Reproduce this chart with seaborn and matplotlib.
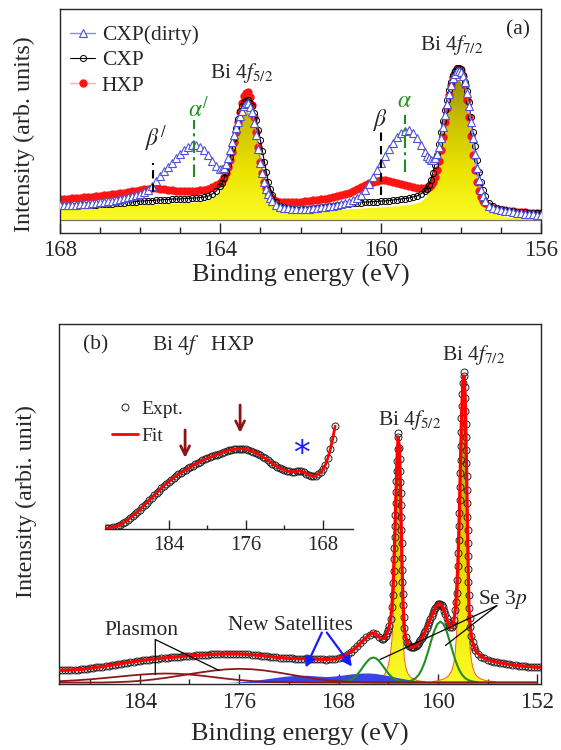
import matplotlib
matplotlib.use("Agg")
import matplotlib.pyplot as plt
import numpy as np
import seaborn as sns
from matplotlib.colors import LinearSegmentedColormap
from matplotlib.patches import PathPatch
from matplotlib.ticker import FixedLocator, MultipleLocator

# ---------------- panel (a): Bi 4f, CXP / HXP ----------------
top_energy = [
    168.0, 167.9, 167.8, 167.7, 167.6, 167.5, 167.4, 167.3, 167.2, 167.1,
    167.0, 166.9, 166.8, 166.7, 166.6, 166.5, 166.4, 166.3, 166.2, 166.1,
    166.0, 165.9, 165.8, 165.7, 165.6, 165.5, 165.4, 165.3, 165.2, 165.1,
    165.0, 164.9, 164.8, 164.7, 164.6, 164.5, 164.4, 164.3, 164.2, 164.1, 164.0,
    163.95, 163.9, 163.85, 163.8, 163.75, 163.7, 163.65, 163.6, 163.55, 163.5,
    163.45, 163.4, 163.35, 163.3, 163.25, 163.2, 163.15, 163.1, 163.05, 163.0,
    162.95, 162.9, 162.85, 162.8, 162.75, 162.7,
    162.6, 162.5, 162.4, 162.3, 162.2, 162.1, 162.0, 161.9, 161.8, 161.7,
    161.6, 161.5, 161.4, 161.3, 161.2, 161.1, 161.0, 160.9, 160.8, 160.7,
    160.6, 160.5, 160.4, 160.3, 160.2, 160.1, 160.0, 159.9, 159.8, 159.7,
    159.6, 159.5, 159.4, 159.3, 159.2, 159.1, 159.0, 158.9,
    158.85, 158.8, 158.75, 158.7, 158.65, 158.6, 158.55, 158.5, 158.45, 158.4,
    158.35, 158.3, 158.25, 158.2, 158.15, 158.1, 158.05, 158.0, 157.95, 157.9,
    157.85, 157.8, 157.75, 157.7, 157.65, 157.6, 157.55, 157.5, 157.45, 157.4,
    157.3, 157.2, 157.1, 157.0, 156.9, 156.8, 156.7, 156.6, 156.5, 156.4,
    156.3, 156.2, 156.1, 156.0,
]
hxp = [
    21, 21, 21.5, 22, 22, 22.5, 23, 23, 23.5, 24,
    24.5, 25, 25.5, 26, 26.5, 27, 27.5, 28, 29, 29.5,
    30, 31, 31.5, 32, 32, 31.5, 31, 30.5, 30, 29.5,
    29, 29, 29, 29, 29.5, 30, 30.5, 31.5, 33, 35, 37,
    39.5, 43, 47.5, 53, 60, 68, 78, 88, 98, 108,
    117, 124, 127.5, 128, 123, 115, 103, 88, 73, 58,
    47, 38, 32.5, 28, 24.5, 22,
    19.5, 18.5, 18, 18, 18, 18, 18.5, 19, 19.5, 20,
    20.5, 21, 21.5, 22.5, 23, 24, 25, 26, 27.5, 29,
    31, 33, 35, 37, 38.5, 39.5, 40, 40, 39.5, 38.5,
    37.5, 36, 35, 34, 33, 32.5, 32, 32,
    32.3, 33, 35, 38, 43, 50, 59, 70, 83, 98,
    112, 125, 135, 143, 148, 151, 151.5, 150, 144, 135,
    120, 103, 84, 65, 50, 38, 29, 23, 19.5, 17,
    14, 12.5, 11.5, 10.5, 10, 9.5, 9, 8.5, 8, 8,
    7.5, 7.5, 7, 7,
]
cxp = [
    14, 14, 14, 14.5, 14.5, 15, 15, 15, 15.5, 15.5,
    16, 16, 16.5, 16.5, 17, 17, 17.5, 18, 18, 18.5,
    19, 19, 19.5, 19.5, 20, 20, 20.5, 20.5, 21, 21,
    21, 21.5, 21.5, 22, 22, 22.5, 23, 24, 26, 29, 34,
    37.5, 42, 48, 55, 63, 72, 82, 92, 101, 109,
    114.5, 118, 119.5, 120, 117.5, 114, 107.5, 100, 90.5, 80,
    69, 58, 48, 38, 31, 25,
    18, 14.5, 13, 12, 11.5, 11, 11, 11, 11.5, 12,
    12.5, 13, 13.5, 14, 14.5, 15, 15.5, 16, 16.5, 17,
    17.5, 17.5, 18, 18, 18.5, 18.5, 19, 19, 19.5, 20,
    20.5, 21, 21.5, 22, 23, 24, 26, 29,
    31.5, 35, 40.5, 47, 55.5, 65, 76.5, 88, 99, 110,
    120.5, 130, 138.5, 145, 149.5, 152, 152.5, 151, 145.5, 138,
    129, 118, 103.5, 88, 74, 60, 48.5, 38, 30.5, 24,
    17, 14, 12, 11, 10, 9.5, 9, 8.5, 8, 8,
    7.5, 7, 7, 7,
]
cxp_dirty = [
    15, 15, 15, 15.5, 15.5, 16, 16, 16.5, 17, 17.5,
    18, 18.5, 19, 19.5, 20.5, 21.5, 22.5, 23.5, 24.5, 25,
    26, 28, 30, 34, 39, 44, 49, 53, 57, 62,
    66, 70, 73, 75, 75, 73, 70, 65, 59, 54, 51,
    51, 52, 56, 62, 70, 78, 85, 92, 98.5, 104,
    109.5, 114, 116, 117, 113.5, 108, 97, 85, 71, 57,
    47, 38, 31.5, 26, 22, 19,
    15, 13, 12.5, 12, 11.5, 11, 11, 11, 11.5, 12,
    12.5, 13, 13.5, 14, 14.5, 15, 16, 17, 18.5, 20,
    22.5, 25, 30, 36, 43, 50, 57, 64, 71, 77,
    83, 87, 89.5, 90, 87.5, 82, 75, 68,
    64.5, 62, 60.5, 60, 62, 66, 73, 82, 93, 105,
    116, 126, 135, 142, 146.5, 149, 149.5, 148, 144, 138,
    127, 114, 98, 82, 66.5, 52, 40, 30, 24, 19,
    14, 12, 11, 10, 9.5, 9, 8, 7.5, 7, 6.5,
    6, 6, 5.5, 5,
]
cxp_fit = [
    10, 10, 10.5, 10.5, 11, 11, 11, 11.5, 11.5, 12,
    12, 12.5, 12.5, 13, 13, 13.5, 13.5, 14, 14, 14.5,
    14.5, 15, 15, 15, 15.5, 15.5, 16, 16, 16, 16.5,
    16.5, 17, 17, 17.5, 17.5, 18, 18.5, 19.5, 21, 24, 29,
    32.5, 37, 43, 50, 58, 67, 76, 85, 93, 100,
    104, 107, 108, 107, 104, 100, 93, 85, 75, 65,
    55, 45, 36.5, 29, 23.5, 19,
    13, 10, 8.5, 8, 7.5, 7.5, 7.5, 8, 8, 8.5,
    8.5, 9, 9, 9.5, 9.5, 10, 10, 10.5, 10.5, 11,
    11, 11.5, 11.5, 12, 12, 12.5, 12.5, 13, 13, 13.5,
    13.5, 14, 14.5, 15, 15.5, 16.5, 18, 21,
    23.5, 27, 32, 38, 46, 55, 66, 77, 89, 100,
    110.5, 120, 128, 134, 138, 140, 140, 138, 133.5, 127,
    118.5, 108, 96, 83, 70, 57, 45.5, 35, 27, 20,
    12, 8, 5.5, 4, 3, 2.5, 2, 2, 1.5, 1.5,
    1.5, 1, 1, 1,
]

# ---------------- panel (b): HXP Bi 4f with fit ----------------
hxp_energy = [
    190.5, 190.25, 190.0, 189.75, 189.5, 189.25, 189.0, 188.75, 188.5, 188.25,
    188.0, 187.75, 187.5, 187.25, 187.0, 186.75, 186.5, 186.25, 186.0, 185.75,
    185.5, 185.25, 185.0, 184.75, 184.5, 184.25, 184.0, 183.75, 183.5, 183.25,
    183.0, 182.75, 182.5, 182.25, 182.0, 181.75, 181.5, 181.25, 181.0, 180.75,
    180.5, 180.25, 180.0, 179.75, 179.5, 179.25, 179.0, 178.75, 178.5, 178.25,
    178.0, 177.75, 177.5, 177.25, 177.0, 176.75, 176.5, 176.25, 176.0, 175.75,
    175.5, 175.25, 175.0, 174.75, 174.5, 174.25, 174.0, 173.75, 173.5, 173.25,
    173.0, 172.75, 172.5, 172.25, 172.0, 171.75, 171.5, 171.25, 171.0, 170.75,
    170.5, 170.25, 170.0, 169.75, 169.5, 169.25, 169.0, 168.75, 168.5, 168.25,
    168.0, 167.75, 167.5, 167.25, 167.0, 166.75, 166.5, 166.25, 166.0, 165.75,
    165.5, 165.25, 165.0, 164.75, 164.5,
    164.4, 164.3, 164.2, 164.1, 164.0, 163.9, 163.8, 163.7, 163.6, 163.5,
    163.4, 163.3, 163.2, 163.1, 163.0, 162.9, 162.8, 162.7, 162.6, 162.5,
    162.4, 162.3, 162.2, 162.1, 162.0, 161.9, 161.8, 161.7, 161.6, 161.5,
    161.4, 161.3, 161.2, 161.1, 161.0, 160.9, 160.8, 160.7, 160.6, 160.5,
    160.4, 160.3, 160.2, 160.1, 160.0, 159.9, 159.8, 159.7, 159.6, 159.5,
    159.4, 159.3, 159.2, 159.1, 159.0, 158.9, 158.8, 158.7, 158.6, 158.5,
    158.4, 158.3, 158.2, 158.1, 158.0, 157.9, 157.8, 157.7, 157.6, 157.5,
    157.4, 157.3, 157.2, 157.1, 157.0,
    156.75, 156.5, 156.25, 156.0, 155.75, 155.5, 155.25, 155.0, 154.75, 154.5,
    154.25, 154.0, 153.75, 153.5, 153.25, 153.0, 152.75, 152.5, 152.25, 152.0,
    151.75,
]
hxp_counts = [
    12.2, 12.2, 12.3, 12.4, 12.5, 12.7, 12.9, 13.2, 13.5, 13.9,
    14.3, 14.7, 15.1, 15.5, 16.0, 16.5, 17.0, 17.5, 18.0, 18.5,
    19.0, 19.5, 20.0, 20.5, 21.0, 21.4, 21.8, 22.2, 22.6, 23.0,
    23.4, 23.7, 24.0, 24.3, 24.6, 24.9, 25.2, 25.5, 25.8, 26.0,
    26.3, 26.5, 26.7, 26.9, 27.1, 27.3, 27.5, 27.7, 27.9, 28.1,
    28.2, 28.4, 28.5, 28.6, 28.7, 28.7, 28.7, 28.7, 28.6, 28.5,
    28.3, 28.1, 27.9, 27.6, 27.3, 27.0, 26.7, 26.3, 26.0, 25.6,
    25.3, 25.0, 24.7, 24.5, 24.3, 24.1, 24.0, 23.9, 23.9, 24.0,
    24.1, 24.0, 23.8, 23.5, 23.3, 23.1, 23.0, 23.1, 23.4, 23.8,
    24.4, 25.4, 26.8, 28.6, 30.8, 33.4, 36.2, 39.2, 42.2, 45.2,
    48.0, 49.6, 48.6, 45.8, 43.6,
    43.8, 45.0, 47.0, 49.5, 52.5, 57, 64, 76, 100, 135,
    180, 222, 246, 235, 190, 125, 78, 55, 46, 41,
    38.5, 36.8, 35.8, 35.3, 35.3, 35.7, 36.5, 37.5, 38.8, 40.4,
    42.2, 44.3, 46.6, 49.1, 51.8, 54.6, 57.5, 60.5, 63.5, 66.5,
    69.4, 72.2, 74.7, 76.8, 78.3, 79.0, 78.8, 77.5, 75.2, 72.0,
    68.2, 64.2, 60.4, 57.3, 55.4, 55.2, 57.5, 63, 73, 90,
    117, 157, 210, 265, 300, 307, 285, 220, 140, 75,
    56, 47, 40.5, 36, 33,
    28.8, 26.0, 24.2, 22.9, 21.8, 21.0, 20.3, 19.6, 19.1, 18.6,
    18.1, 17.6, 17.2, 16.8, 16.5, 16.3, 16.0, 15.8, 15.6, 15.3,
    15.1,
]
# extra experimental points on the steep flanks of the two main peaks
flank_energy = [
    163.65, 163.566, 163.531, 163.476, 163.451, 163.427, 163.374, 163.348, 163.324, 163.25, 163.22,
    163.076, 163.049, 163.024, 162.982, 162.963, 162.943, 162.923, 162.874, 162.849, 162.823, 162.748,
    158.553, 158.452, 158.368, 158.335, 158.275, 158.251, 158.226, 158.176, 158.151, 158.125,
    158.066, 158.031, 157.93,
    157.85, 157.78, 157.76, 157.74, 157.72, 157.684, 157.666, 157.65, 157.633, 157.616,
    157.58, 157.56, 157.54, 157.52, 157.45,
]
flank_counts = [
    88, 112, 124, 146, 157, 168, 191, 202, 212, 234, 250,
    224, 212, 201, 178, 166, 153, 140, 113, 101, 89, 66,
    81, 103, 130, 143, 170, 183, 196, 223, 237, 251,
    277, 289, 311,
    296, 272, 259, 246, 233, 207, 193, 180, 166, 153,
    127, 114, 101, 88, 65,
]

bi52_energy = [
    165.7, 165.6, 165.5, 165.4, 165.3, 165.2, 165.1, 165.0, 164.9, 164.8,
    164.7, 164.6, 164.5, 164.4, 164.3, 164.2, 164.1, 164.0, 163.9, 163.8,
    163.7, 163.6, 163.5, 163.4, 163.3, 163.2, 163.1, 163.0, 162.9, 162.8,
    162.7, 162.6, 162.5, 162.4, 162.3, 162.2, 162.1, 162.0, 161.9, 161.8,
    161.7, 161.6, 161.5, 161.4, 161.3, 161.2, 161.1, 161.0,
]
bi52 = [
    0.9, 1.0, 1.1, 1.3, 1.5, 1.7, 2.0, 2.3, 2.7, 3.1,
    3.6, 4.3, 5.2, 6.5, 8.0, 10, 13, 17, 23, 31,
    43, 65, 100, 145, 190, 214, 200, 155, 92, 45,
    24, 16, 11.5, 8.7, 6.8, 5.4, 4.4, 3.6, 3.0, 2.6,
    2.2, 1.9, 1.6, 1.4, 1.2, 1.0, 0.9, 0.8,
]
bi72_energy = [
    160.4, 160.3, 160.2, 160.1, 160.0, 159.9, 159.8, 159.7, 159.6, 159.5,
    159.4, 159.3, 159.2, 159.1, 159.0, 158.9, 158.8, 158.7, 158.6, 158.5,
    158.4, 158.3, 158.2, 158.1, 158.0, 157.9, 157.8, 157.7, 157.6, 157.5,
    157.4, 157.3, 157.2, 157.1, 157.0, 156.9, 156.8, 156.7, 156.6, 156.5,
    156.4, 156.3, 156.2, 156.1, 156.0, 155.9, 155.8, 155.7, 155.6, 155.5,
    155.4,
]
bi72 = [
    1.0, 1.2, 1.4, 1.6, 1.9, 2.2, 2.5, 2.9, 3.3, 3.8,
    4.4, 5.2, 6.2, 7.5, 9.2, 11.5, 15, 21, 31, 48,
    75, 115, 170, 228, 272, 285, 260, 200, 122, 55,
    32, 22, 15.5, 11.5, 8.8, 7.0, 5.7, 4.7, 4.0, 3.4,
    2.9, 2.5, 2.2, 1.9, 1.7, 1.5, 1.3, 1.2, 1.0, 0.9,
    0.8,
]
se_a_energy = [
    168.2, 167.95, 167.7, 167.45, 167.2, 166.95, 166.7, 166.45, 166.2, 165.95,
    165.7, 165.45, 165.2, 164.95, 164.7, 164.45, 164.2, 163.95, 163.7, 163.45,
    163.2, 162.95, 162.7, 162.45, 162.2,
]
se_a = [
    0.2, 0.35, 0.6, 1.0, 1.8, 3.1, 5.3, 8.5, 12.5, 17.0,
    21.0, 24.0, 25.0, 24.0, 21.0, 17.0, 12.5, 8.5, 5.3, 3.1,
    1.8, 1.0, 0.6, 0.35, 0.2,
]
se_b_energy = [
    162.8, 162.55, 162.3, 162.05, 161.8, 161.55, 161.3, 161.05, 160.8, 160.55,
    160.3, 160.05, 159.8, 159.55, 159.3, 159.05, 158.8, 158.55, 158.3, 158.05,
    157.8, 157.55, 157.3, 157.05, 156.8,
]
se_b = [
    0.4, 0.7, 1.3, 2.4, 4.3, 7.6, 13.0, 20.7, 30.5, 41.4,
    51.3, 58.4, 61.0, 58.4, 51.3, 41.4, 30.5, 20.7, 13.0, 7.6,
    4.3, 2.4, 1.3, 0.7, 0.4,
]
plasmon_energy = [
    190.5, 190, 189, 188, 187, 186, 185, 184, 183, 182,
    181, 180, 179, 178, 177, 176, 175, 174, 173, 172,
    171, 170, 169, 168, 167, 166, 165, 152,
]
plasmon_1 = [
    1.3, 1.6, 2.3, 3.2, 4.3, 5.5, 6.7, 7.8, 8.6, 9.0,
    8.8, 8.0, 6.8, 5.3, 3.8, 2.5, 1.5, 0.8, 0.4, 0.2,
    0.1, 0, 0, 0, 0, 0, 0, 0,
]
plasmon_2 = [
    0, 0, 0, 0, 0, 0.3, 0.8, 1.6, 2.9, 4.5,
    6.4, 8.4, 10.3, 12.0, 13.2, 13.7, 13.3, 12.1, 10.3, 8.2,
    6.0, 4.0, 2.4, 1.3, 0.6, 0.2, 0, 0,
]
sat_energy = [
    177.0, 176.5, 176.0, 175.5, 175.0, 174.5, 174.0, 173.5, 173.0, 172.5,
    172.0, 171.5, 171.0, 170.5, 170.0, 169.5, 169.0, 168.5, 168.0, 167.5,
    167.0, 166.5, 166.0, 165.5, 165.0, 164.5, 164.0, 163.5, 163.0, 162.5,
    162.0, 161.5, 161.0, 160.5, 160.0, 159.5,
]
satellites = [
    0.0, 0.3, 0.7, 1.2, 1.8, 2.6, 3.4, 4.3, 5.2, 6.0,
    6.6, 7.1, 7.3, 7.2, 6.8, 6.3, 6.0, 6.3, 7.0, 7.8,
    8.6, 9.2, 9.5, 9.5, 9.0, 8.0, 6.8, 5.5, 4.3, 3.2,
    2.3, 1.5, 0.9, 0.4, 0.2, 0.0,
]

sns.set_style("ticks")
plt.rcParams["font.family"] = ["Liberation Serif", "DejaVu Serif"]
plt.rcParams["mathtext.fontset"] = "stix"
plt.rcParams["axes.linewidth"] = 1.0

XLABEL = 19
YLABEL = 17.3
TICK = 16.5
TEXT = 15.5

bi_cmap = LinearSegmentedColormap.from_list("bi", ["#fbfb28", "#ece400", "#c9c000", "#8c8812"])


def gradient_fill(ax, x, y, top, z):
    band = ax.fill_between(x, 0, y, facecolor="none", edgecolor="none", zorder=z)
    clip = PathPatch(band.get_paths()[0], transform=ax.transData,
                     facecolor="none", edgecolor="none")
    ax.add_patch(clip)
    shade = ax.imshow(np.linspace(0, 1, 256).reshape(-1, 1), cmap=bi_cmap,
                      origin="lower", aspect="auto",
                      extent=(min(x), max(x), 0, top), zorder=z)
    shade.set_clip_path(clip)


def draw(ax, x, y, **kw):
    sns.lineplot(x=x, y=y, ax=ax, estimator=None, sort=False, errorbar=None, **kw)
    return ax.lines[-1]


fig = plt.figure(figsize=(5.61, 7.5), dpi=100)
ax_a = fig.add_axes([60 / 561, 1 - 233 / 750, 481 / 561, 224 / 750])
ax_b = fig.add_axes([59 / 561, 66 / 750, 482 / 561, 360 / 750])
ax_in = fig.add_axes([105 / 561, 1 - 529 / 750, 248 / 561, 149 / 750])

# ---- panel (a) ----
gradient_fill(ax_a, top_energy, cxp_fit, 150, 1)
ax_a.axhline(0, color="0.45", lw=0.9, zorder=1.5)
h_hxp = draw(ax_a, top_energy, hxp, color="#ffb0b0", lw=1.0, marker="o", markersize=6,
             markerfacecolor="#ff1414", markeredgecolor="#ff1414", markeredgewidth=0, zorder=2)
h_cxp = draw(ax_a, top_energy, cxp, color="black", lw=0.8, marker="o", markersize=4.4,
             markerfacecolor="none", markeredgecolor="black", markeredgewidth=0.7, zorder=3)
h_dirty = draw(ax_a, top_energy, cxp_dirty, color="#8a8af2", lw=1.0, marker="^", markersize=5.2,
               markerfacecolor="white", markeredgecolor="#5252d8", markeredgewidth=0.8, zorder=4)

ax_a.legend([h_dirty, h_cxp, h_hxp], ["CXP(dirty)", "CXP", "HXP"], loc="upper left",
            bbox_to_anchor=(0.02, 0.928), frameon=False, fontsize=TEXT, handlelength=1.2,
            handletextpad=0.3, labelspacing=0.24, borderpad=0, borderaxespad=0)

green = "#1f8f1f"
ax_a.vlines(165.68, 28, 57, colors="black", linestyles=(0, (4, 2.5)), lw=1.5, zorder=5)
ax_a.vlines(164.65, 43, 100, colors=green, linestyles=(0, (6, 2, 1.5, 2)), lw=1.5, zorder=5)
ax_a.vlines(160.0, 25, 90, colors="black", linestyles=(0, (4, 2.5)), lw=1.5, zorder=5)
ax_a.vlines(159.39, 48, 105, colors=green, linestyles=(0, (6, 2, 1.5, 2)), lw=1.5, zorder=5)
ax_a.text(165.88, 74, r"$\beta^{/}$", fontsize=17, va="baseline")
ax_a.text(164.81, 103, r"$\alpha^{/}$", fontsize=17, va="baseline", color=green)
ax_a.text(160.19, 94, r"$\beta$", fontsize=17, va="baseline")
ax_a.text(159.59, 113, r"$\alpha$", fontsize=17, va="baseline", color=green)
ax_a.text(164.26, 142, r"Bi 4$f_{\mathit{5/2}}$", fontsize=TEXT, va="baseline")
ax_a.text(159.02, 170, r"Bi 4$f_{\mathit{7/2}}$", fontsize=TEXT, va="baseline")
ax_a.text(0.952, 0.906, "(a)", transform=ax_a.transAxes, fontsize=TEXT, ha="center", va="center")

ax_a.set_xlim(168, 156)
ax_a.set_ylim(-13, 211)
ax_a.set_xticks([168, 164, 160, 156])
ax_a.xaxis.set_minor_locator(MultipleLocator(1))
ax_a.set_yticks([])
ax_a.tick_params(axis="x", which="major", direction="in", length=7, width=1, labelsize=TICK, pad=5)
ax_a.tick_params(axis="x", which="minor", direction="in", length=4.3, width=1)
ax_a.set_xlabel("Binding energy (eV)", fontsize=XLABEL)
ax_a.set_ylabel("Intensity (arb. units)", fontsize=YLABEL)
ax_a.xaxis.set_label_coords(0.5, -0.14)
ax_a.yaxis.set_label_coords(-0.052, 0.44)

# ---- panel (b) ----
gradient_fill(ax_b, bi52_energy, bi52, 290, 1)
gradient_fill(ax_b, bi72_energy, bi72, 290, 1)
draw(ax_b, bi52_energy, bi52, color="#ff5a1e", lw=0.7, zorder=1.2)
draw(ax_b, bi72_energy, bi72, color="#ff5a1e", lw=0.7, zorder=1.2)
ax_b.fill_between(sat_energy, 0, satellites, color="#3a44e6", lw=0, zorder=1.3)
draw(ax_b, se_a_energy, se_a, color=green, lw=1.5, zorder=2)
draw(ax_b, se_b_energy, se_b, color=green, lw=1.5, zorder=2)
draw(ax_b, plasmon_energy, plasmon_1, color="#8b1a1a", lw=1.3, zorder=2)
draw(ax_b, plasmon_energy, plasmon_2, color="#8b1a1a", lw=1.3, zorder=2)

draw(ax_b, hxp_energy, hxp_counts, linestyle="none", marker="o", markersize=5,
     markerfacecolor="none", markeredgecolor="#222222", markeredgewidth=0.7, zorder=3)
draw(ax_b, flank_energy, flank_counts, linestyle="none", marker="o", markersize=5,
     markerfacecolor="none", markeredgecolor="#222222", markeredgewidth=0.7, zorder=3)
draw(ax_b, hxp_energy, hxp_counts, color="#ff0000", lw=2.3, zorder=4)

line_kw = dict(arrowstyle="-", color="black", lw=0.9, shrinkA=0, shrinkB=0)
for end in [(182.75, 8), (177.6, 12)]:
    ax_b.annotate("", xy=end, xytext=(182.75, 43), arrowprops=line_kw, zorder=5)
for end in [(164.66, 23), (159.4, 37)]:
    ax_b.annotate("", xy=end, xytext=(155.25, 77), arrowprops=line_kw, zorder=5)
arrow_kw = dict(arrowstyle="-|>", color="#1a1aff", lw=1.6, mutation_scale=15, shrinkA=0, shrinkB=0)
ax_b.annotate("", xy=(170.65, 15), xytext=(169.34, 50), arrowprops=arrow_kw, zorder=5)
ax_b.annotate("", xy=(166.92, 16), xytext=(168.94, 50), arrowprops=arrow_kw, zorder=5)

ax_b.text(183.85, 48, "Plasmon", fontsize=TEXT, ha="center", va="baseline")
ax_b.text(171.9, 53, "New Satellites", fontsize=TEXT, ha="center", va="baseline")
ax_b.text(156.76, 79, r"Se 3$p$", fontsize=TEXT, va="baseline")
ax_b.text(164.82, 258, r"Bi 4$f_{\mathit{5/2}}$", fontsize=TEXT, va="baseline")
ax_b.text(159.66, 323, r"Bi 4$f_{\mathit{7/2}}$", fontsize=TEXT, va="baseline")
ax_b.text(0.05, 0.928, "(b)", transform=ax_b.transAxes, fontsize=TEXT, va="baseline")
ax_b.text(0.193, 0.928, r"Bi 4$f$   HXP", transform=ax_b.transAxes, fontsize=TEXT, va="baseline")

ax_b.set_xlim(190.5, 151.7)
ax_b.set_ylim(-1.5, 359)
ax_b.set_xticks([184, 176, 168, 160, 152])
ax_b.xaxis.set_minor_locator(MultipleLocator(4))
ax_b.set_yticks([])
ax_b.tick_params(axis="x", which="major", direction="in", length=7, width=1, labelsize=TICK, pad=6)
ax_b.tick_params(axis="x", which="minor", direction="in", length=3.6, width=1)
ax_b.set_xlabel("Binding energy (eV)", fontsize=XLABEL)
ax_b.set_ylabel("Intensity (arbi. unit)", fontsize=YLABEL)
ax_b.xaxis.set_label_coords(0.5, -0.108)
ax_b.yaxis.set_label_coords(-0.046, 0.506)

# ---- inset: plasmon / satellite region ----
in_energy = [e for e in hxp_energy if e >= 166.7]
in_counts = hxp_counts[:len(in_energy)]
h_expt = draw(ax_in, in_energy, in_counts, linestyle="none", marker="o", markersize=5,
              markerfacecolor="none", markeredgecolor="#222222", markeredgewidth=0.7, zorder=3)
h_fit = draw(ax_in, in_energy, in_counts, color="#ff0000", lw=2.0, zorder=4)
ax_in.legend([h_expt, h_fit], ["Expt.", "Fit"], loc="upper left", bbox_to_anchor=(0.03, 0.863),
             frameon=False, fontsize=14, handlelength=1.3, handletextpad=0.2,
             labelspacing=0.46, borderpad=0, borderaxespad=0)
down_kw = dict(arrowstyle="->", color="#8b1414", lw=2.0, mutation_scale=16, shrinkA=0, shrinkB=0)
ax_in.annotate("", xy=(182.3, 26.8), xytext=(182.3, 32.6), arrowprops=down_kw)
ax_in.annotate("", xy=(176.6, 32.0), xytext=(176.6, 37.8), arrowprops=down_kw)
ax_in.text(170.3, 27.6, "*", color="#1a1aff", fontsize=24, ha="center", va="center",
           family="DejaVu Sans")

ax_in.set_facecolor("none")
ax_in.set_xlim(190.6, 164.9)
ax_in.set_ylim(12.0, 43.0)
for side in ["left", "top", "right"]:
    ax_in.spines[side].set_visible(False)
ax_in.set_xticks([184, 176, 168])
ax_in.xaxis.set_minor_locator(FixedLocator([180, 172]))
ax_in.set_yticks([])
ax_in.tick_params(axis="x", which="major", direction="in", length=6.5, width=1, labelsize=15, pad=5)
ax_in.tick_params(axis="x", which="minor", direction="in", length=3, width=1)

fig.savefig("out.png", dpi=100)
